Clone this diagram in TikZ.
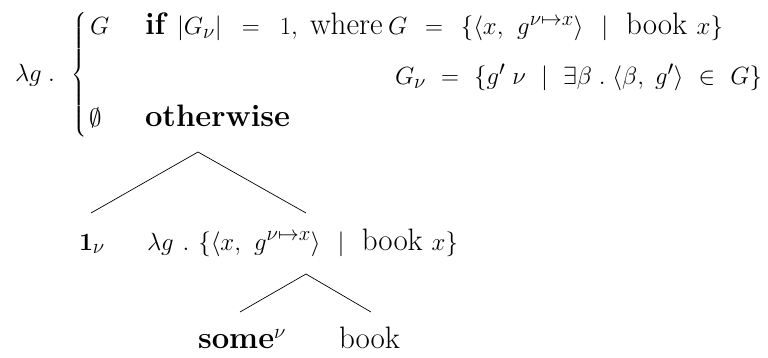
\documentclass[tikz,border=0pt]{standalone}
\usepackage{amsmath}
\DeclareMathSizes{31}{31}{22}{17}
\newcommand\gp{\mskip 1mu plus 8mu\relax}
\newcommand\fitto[2]{\makebox[#1][s]{\thickmuskip=6mu\relax\medmuskip=4mu\relax #2}}
\begin{document}
\begin{tikzpicture}[x=1pt,y=-1pt,
  txt/.style={inner sep=0pt,outer sep=0pt,anchor=base west,
    font=\fontsize{31}{37}\selectfont},
  edge/.style={line width=0.7pt,black}]
\useasboundingbox (0,0) rectangle (768,358);
% top formula
\node[txt] (lam) at (15,82) {\fitto{40pt}{$\lambda g\gp.$}};
\node[inner sep=0pt,anchor=east,font=\fontsize{17}{20}\selectfont] (brace) at (88,76)
  {$\left\{\vrule height 60pt depth 60pt width 0pt\right.$};
\node[txt] (G) at (90,35) {$G$};
\node[txt] (if) at (145,35) {\textbf{if}};
\node[txt] (cond) at (177,35) {\fitto{121pt}{$|G_\nu|\gp=\gp1,$}};
\node[txt] (where) at (310,35) {where};
\node[txt] (defG) at (388,35) {\fitto{335pt}{$G \gp=\gp \{\langle x,\gp g^{\nu\mapsto x}\rangle \gp\mid\gp \text{book}\gp x\}$}};
\node[txt] (defGn) at (395,85) {\fitto{367pt}{$G_\nu \gp=\gp \{g'\gp\nu \gp\mid\gp \exists\beta\gp.\gp\langle\beta,\gp g'\rangle \gp\in\gp G\}$}};
\node[txt] (empty) at (89,127) {$\emptyset$};
\node[txt] (other) at (145,127) {\textbf{otherwise}};
% tree
\coordinate (r) at (198,152);
\coordinate (rl) at (91,213);
\coordinate (rr) at (306,213);
\node[txt] (one) at (79,250) {$\mathbf{1}_\nu$};
\node[txt] (np) at (147,250) {\fitto{311pt}{$\lambda g\gp.\gp\{\langle x,\gp g^{\nu\mapsto x}\rangle \gp\mid\gp \text{book}\gp x\}$}};
\coordinate (n) at (306,274);
\coordinate (nl) at (240,312);
\coordinate (nr) at (371,312);
\node[txt] (some) at (198,348) {\textbf{some}$^\nu$};
\node[txt] (book) at (339,348) {book};
\draw[edge] (rl) -- (r) -- (rr);
\draw[edge] (nl) -- (n) -- (nr);
\end{tikzpicture}
\end{document}
